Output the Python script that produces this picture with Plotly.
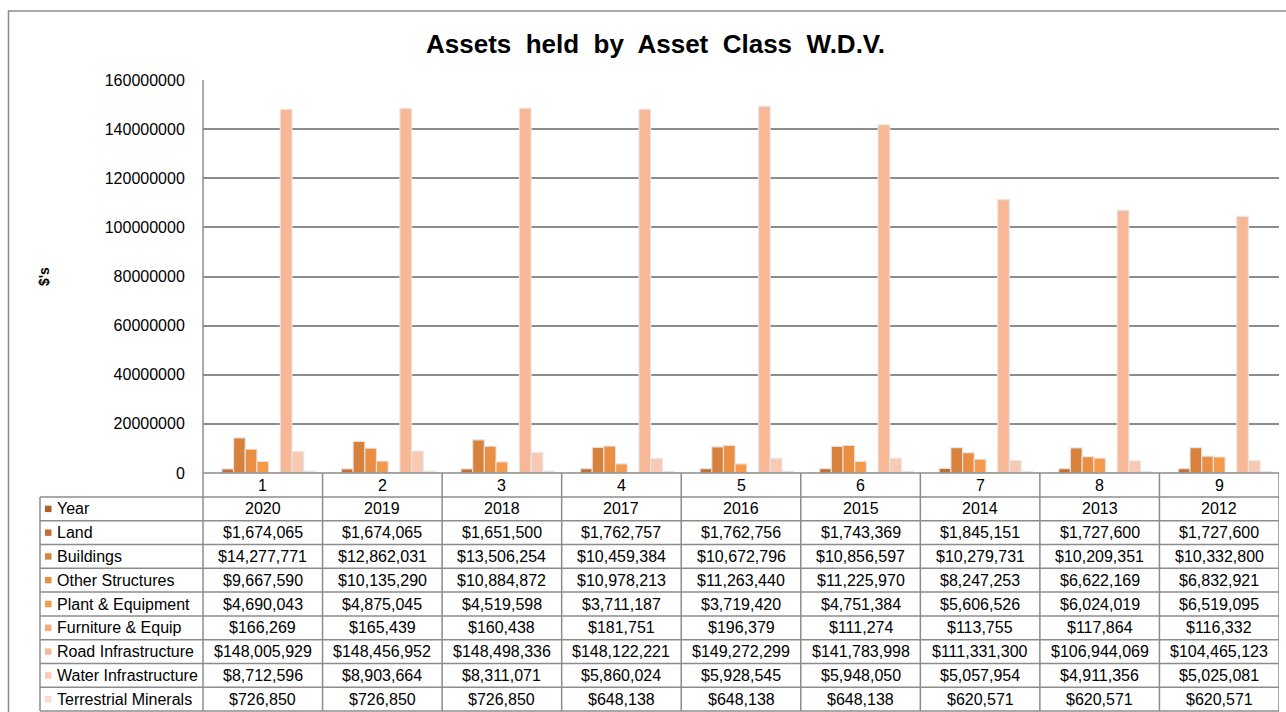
import plotly.graph_objects as go

# ---- data -------------------------------------------------------------
categories = ["1", "2", "3", "4", "5", "6", "7", "8", "9"]
year = [2020, 2019, 2018, 2017, 2016, 2015, 2014, 2013, 2012]
land = [1674065, 1674065, 1651500, 1762757, 1762756, 1743369, 1845151, 1727600, 1727600]
buildings = [14277771, 12862031, 13506254, 10459384, 10672796, 10856597, 10279731, 10209351, 10332800]
other_structures = [9667590, 10135290, 10884872, 10978213, 11263440, 11225970, 8247253, 6622169, 6832921]
plant_equipment = [4690043, 4875045, 4519598, 3711187, 3719420, 4751384, 5606526, 6024019, 6519095]
furniture_equip = [166269, 165439, 160438, 181751, 196379, 111274, 113755, 117864, 116332]
road_infrastructure = [148005929, 148456952, 148498336, 148122221, 149272299, 141783998, 111331300, 106944069, 104465123]
water_infrastructure = [8712596, 8903664, 8311071, 5860024, 5928545, 5948050, 5057954, 4911356, 5025081]
terrestrial_minerals = [726850, 726850, 726850, 648138, 648138, 648138, 620571, 620571, 620571]

series_names = ["Year", "Land", "Buildings", "Other Structures", "Plant & Equipment",
                "Furniture & Equip", "Road Infrastructure", "Water Infrastructure",
                "Terrestrial Minerals"]
series_values = [year, land, buildings, other_structures, plant_equipment,
                 furniture_equip, road_infrastructure, water_infrastructure,
                 terrestrial_minerals]
series_colors = ["#b0602a", "#c66e30", "#d8813c", "#e98e42", "#f49a4a",
                 "#f6aa7c", "#f8b896", "#f8c9b3", "#fbdccf"]

y_ticks = [0, 20000000, 40000000, 60000000, 80000000, 100000000, 120000000, 140000000, 160000000]

# ---- geometry helpers (pixel -> paper) --------------------------------
W, H = 1286, 712
def px(x):
    return x / W
def py(y):
    return 1 - y / H

PLOT_L, PLOT_R, PLOT_T, PLOT_B = 203, 1279, 80, 473
TABLE_L = 40
ROW_TOP = 497
ROW_H = (711 - 497) / 9
GRID = "#8c8c8c"
FONT = "Liberation Sans, Arial, sans-serif"

fig = go.Figure()
for name, vals, col in zip(series_names, series_values, series_colors):
    fig.add_trace(go.Bar(
        x=categories, y=vals, name=name,
        marker=dict(color=col, line=dict(color="rgba(230,230,230,0.9)", width=1.2)),
        showlegend=False,
    ))

shapes = []
annotations = []

# outer chart border
shapes.append(dict(type="rect", xref="paper", yref="paper",
                   x0=px(8.5), x1=px(1300), y0=py(730), y1=py(11),
                   line=dict(color=GRID, width=1.5)))

# table frame: horizontal lines
for i in range(10):
    yy = ROW_TOP + i * ROW_H
    shapes.append(dict(type="line", xref="paper", yref="paper",
                       x0=px(TABLE_L), x1=px(PLOT_R), y0=py(yy), y1=py(yy),
                       line=dict(color=GRID, width=1.5)))
# zero line / top of category row
shapes.append(dict(type="line", xref="paper", yref="paper",
                   x0=px(PLOT_L), x1=px(PLOT_R), y0=py(PLOT_B), y1=py(PLOT_B),
                   line=dict(color=GRID, width=1.5)))
# vertical lines
shapes.append(dict(type="line", xref="paper", yref="paper",
                   x0=px(TABLE_L), x1=px(TABLE_L), y0=py(ROW_TOP), y1=py(711),
                   line=dict(color=GRID, width=1.5)))
shapes.append(dict(type="line", xref="paper", yref="paper",
                   x0=px(PLOT_L), x1=px(PLOT_L), y0=py(PLOT_T), y1=py(711),
                   line=dict(color=GRID, width=1.5)))
for k in range(len(categories)):
    shapes.append(dict(type="line", xref="x", yref="paper",
                       x0=k + 0.5, x1=k + 0.5, y0=py(PLOT_B), y1=py(711),
                       line=dict(color=GRID, width=1.5)))

# category labels row (positioned by category index)
for k, c in enumerate(categories):
    annotations.append(dict(x=k, y=py((PLOT_B + ROW_TOP) / 2), xref="x", yref="paper",
                            text=c, showarrow=False, xanchor="center", yanchor="middle",
                            font=dict(family=FONT, size=16, color="#000")))

# table body
def fmt(name, v):
    return str(v) if name == "Year" else "${:,}".format(v)

for r, (name, vals, col) in enumerate(zip(series_names, series_values, series_colors)):
    yc = ROW_TOP + (r + 0.5) * ROW_H
    shapes.append(dict(type="rect", xref="paper", yref="paper",
                       x0=px(45), x1=px(51.5), y0=py(yc + 3.2), y1=py(yc - 3.2),
                       fillcolor=col, line=dict(width=0)))
    annotations.append(dict(x=px(55), y=py(yc), xref="paper", yref="paper",
                            text=name, showarrow=False, xanchor="left", yanchor="middle",
                            font=dict(family=FONT, size=16, color="#000")))
    for k, v in enumerate(vals):
        annotations.append(dict(x=k, y=py(yc), xref="x", yref="paper",
                                text=fmt(name, v), showarrow=False,
                                xanchor="center", yanchor="middle",
                                font=dict(family=FONT, size=16, color="#000")))

# title and axis title
annotations.append(dict(x=px(655), y=py(44), xref="paper", yref="paper",
                        text="<b>Assets&nbsp; held&nbsp; by&nbsp; Asset&nbsp; Class&nbsp; W.D.V.</b>",
                        showarrow=False, xanchor="center", yanchor="middle",
                        font=dict(family=FONT, size=26, color="#000")))
annotations.append(dict(x=px(44), y=py(277), xref="paper", yref="paper",
                        text="<b>$'s</b>", showarrow=False, textangle=-90,
                        xanchor="center", yanchor="middle",
                        font=dict(family=FONT, size=14, color="#000")))

fig.update_layout(
    width=W, height=H,
    margin=dict(l=0, r=0, t=0, b=0, pad=0),
    paper_bgcolor="white", plot_bgcolor="white",
    barmode="group", bargap=0.12, bargroupgap=0,
    shapes=shapes, annotations=annotations,
    xaxis=dict(type="category", domain=[px(PLOT_L), px(PLOT_R)], range=[-0.5, 8.5],
               showticklabels=False, showgrid=False, zeroline=False, showline=False,
               ticks="", automargin=False),
    yaxis=dict(domain=[py(PLOT_B), py(PLOT_T)], range=[0, 160000000],
               tickvals=y_ticks, ticktext=[str(v) for v in y_ticks],
               showgrid=True, gridcolor=GRID, gridwidth=1.5,
               zeroline=False, showline=False, ticks="outside", ticklen=0,
               ticklabelstandoff=14, automargin=False,
               tickfont=dict(family=FONT, size=16, color="#000")),
)

fig.write_html("out.html")
